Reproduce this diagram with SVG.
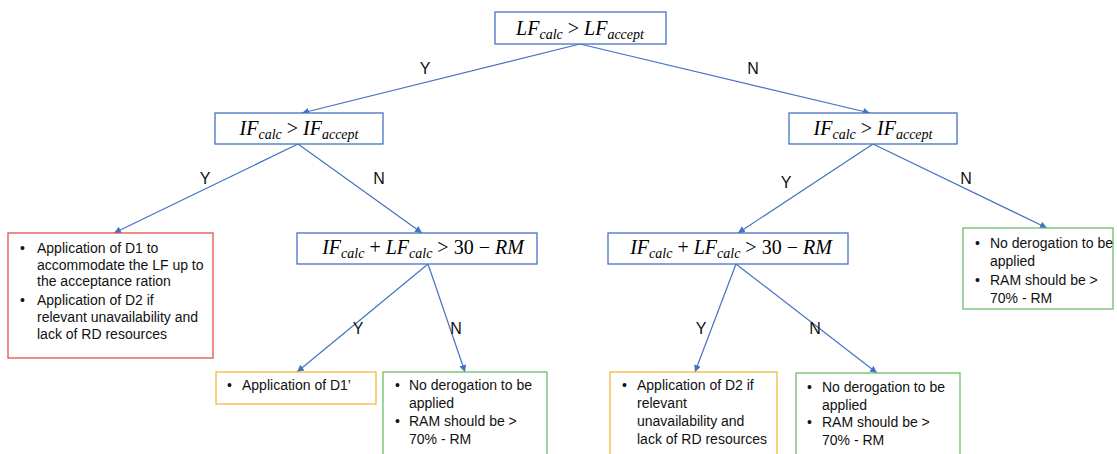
<svg xmlns="http://www.w3.org/2000/svg" width="1117" height="454" viewBox="0 0 1117 454">
<defs>
<marker id="ah" viewBox="0 0 10 10" refX="10" refY="5" markerWidth="7" markerHeight="7" markerUnits="userSpaceOnUse" orient="auto">
<path d="M0,0 L10,5 L0,10 z" fill="#4472C4"/>
</marker>
<style>
.dec{fill:#fff;stroke:#4472C4;stroke-width:1.3}
.red{fill:#fff;stroke:#E0504A;stroke-width:1.3}
.yel{fill:#fff;stroke:#F5B93A;stroke-width:1.3}
.grn{fill:#fff;stroke:#6DBE6A;stroke-width:1.3}
.m{font-family:"Liberation Serif",serif;font-size:20px;fill:#000}
.i{font-style:italic}
.s{font-style:italic;font-size:14px}
.t{font-family:"Liberation Sans",Arial,sans-serif;font-size:14px;fill:#111}
.lbl{font-family:"Liberation Sans",Arial,sans-serif;font-size:16px;fill:#111;text-anchor:middle}
.c{stroke:#4472C4;stroke-width:1.2;fill:none;marker-end:url(#ah)}
</style>
</defs>
<rect width="1117" height="454" fill="#fff"/>
<g id="connectors">
<line class="c" x1="580" y1="44" x2="302" y2="113"/>
<line class="c" x1="580" y1="44" x2="870" y2="113"/>
<line class="c" x1="298" y1="144" x2="114" y2="233"/>
<line class="c" x1="298" y1="144" x2="422" y2="233"/>
<line class="c" x1="873" y1="144" x2="738" y2="233"/>
<line class="c" x1="873" y1="144" x2="1047" y2="228"/>
<line class="c" x1="428" y1="264" x2="297" y2="372"/>
<line class="c" x1="428" y1="264" x2="465" y2="372"/>
<line class="c" x1="736" y1="264" x2="695" y2="372"/>
<line class="c" x1="736" y1="264" x2="877" y2="373"/>
<text class="lbl" x="425" y="74">Y</text>
<text class="lbl" x="753" y="74">N</text>
<text class="lbl" x="205" y="184">Y</text>
<text class="lbl" x="379" y="184">N</text>
<text class="lbl" x="786" y="188">Y</text>
<text class="lbl" x="966" y="184">N</text>
<text class="lbl" x="358" y="334">Y</text>
<text class="lbl" x="456" y="334">N</text>
<text class="lbl" x="701" y="334">Y</text>
<text class="lbl" x="815" y="334">N</text>
</g>
<g id="n-top">
<rect class="dec" x="495" y="12" width="171" height="32"/>
<text class="m" x="580" y="35" text-anchor="middle"><tspan class="i">LF</tspan><tspan class="s" dy="4">calc</tspan><tspan dy="-4"> &gt; </tspan><tspan class="i">LF</tspan><tspan class="s" dy="4">accept</tspan></text>
</g>
<g id="n-if-left">
<rect class="dec" x="215" y="113" width="168" height="31"/>
<text class="m" x="299" y="135" text-anchor="middle"><tspan class="i">IF</tspan><tspan class="s" dy="4">calc</tspan><tspan dy="-4"> &gt; </tspan><tspan class="i">IF</tspan><tspan class="s" dy="4">accept</tspan></text>
</g>
<g id="n-if-right">
<rect class="dec" x="789" y="113" width="168" height="31"/>
<text class="m" x="873" y="135" text-anchor="middle"><tspan class="i">IF</tspan><tspan class="s" dy="4">calc</tspan><tspan dy="-4"> &gt; </tspan><tspan class="i">IF</tspan><tspan class="s" dy="4">accept</tspan></text>
</g>
<g id="n-sum-left">
<rect class="dec" x="297" y="233" width="240" height="31"/>
<text class="m" x="423" y="254" text-anchor="middle"><tspan class="i">IF</tspan><tspan class="s" dy="4">calc</tspan><tspan dy="-4"> +  </tspan><tspan class="i">LF</tspan><tspan class="s" dy="4">calc</tspan><tspan dy="-4"> &gt; 30 − </tspan><tspan class="i">RM</tspan></text>
</g>
<g id="n-sum-right">
<rect class="dec" x="608" y="233" width="240" height="31"/>
<text class="m" x="731" y="254" text-anchor="middle"><tspan class="i">IF</tspan><tspan class="s" dy="4">calc</tspan><tspan dy="-4"> + </tspan><tspan class="i">LF</tspan><tspan class="s" dy="4">calc</tspan><tspan dy="-4"> &gt; 30 − </tspan><tspan class="i">RM</tspan></text>
</g>
<g id="n-red">
<rect class="red" x="8" y="233" width="205" height="125"/>
<text class="t" x="20" y="253">•</text>
<text class="t" x="37" y="253">Application of D1 to</text>
<text class="t" x="37" y="270">accommodate the LF up to</text>
<text class="t" x="37" y="286">the acceptance ration</text>
<text class="t" x="20" y="305">•</text>
<text class="t" x="37" y="305">Application of D2 if</text>
<text class="t" x="37" y="322">relevant unavailability and</text>
<text class="t" x="37" y="339">lack of RD resources</text>
</g>
<g id="n-green-top">
<rect class="grn" x="963" y="228" width="150" height="81"/>
<text class="t" x="975" y="248">•</text>
<text class="t" x="990" y="248">No derogation to be</text>
<text class="t" x="990" y="266">applied</text>
<text class="t" x="975" y="285">•</text>
<text class="t" x="990" y="285">RAM should be &gt;</text>
<text class="t" x="990" y="303">70% - RM</text>
</g>
<g id="n-yel-left">
<rect class="yel" x="216" y="372" width="160" height="32"/>
<text class="t" x="227" y="390">•</text>
<text class="t" x="242" y="390">Application of D1’</text>
</g>
<g id="n-green-left">
<rect class="grn" x="383" y="372" width="164" height="86"/>
<text class="t" x="395" y="390">•</text>
<text class="t" x="409" y="390">No derogation to be</text>
<text class="t" x="409" y="408">applied</text>
<text class="t" x="395" y="426">•</text>
<text class="t" x="409" y="426">RAM should be &gt;</text>
<text class="t" x="409" y="444">70% - RM</text>
</g>
<g id="n-yel-right">
<rect class="yel" x="610" y="372" width="167" height="86"/>
<text class="t" x="622" y="390">•</text>
<text class="t" x="637" y="390">Application of D2 if</text>
<text class="t" x="637" y="408">relevant</text>
<text class="t" x="637" y="426">unavailability and</text>
<text class="t" x="637" y="444">lack of RD resources</text>
</g>
<g id="n-green-right">
<rect class="grn" x="796" y="373" width="164" height="86"/>
<text class="t" x="807" y="392">•</text>
<text class="t" x="822" y="392">No derogation to be</text>
<text class="t" x="822" y="410">applied</text>
<text class="t" x="807" y="427">•</text>
<text class="t" x="822" y="427">RAM should be &gt;</text>
<text class="t" x="822" y="445">70% - RM</text>
</g>
</svg>
